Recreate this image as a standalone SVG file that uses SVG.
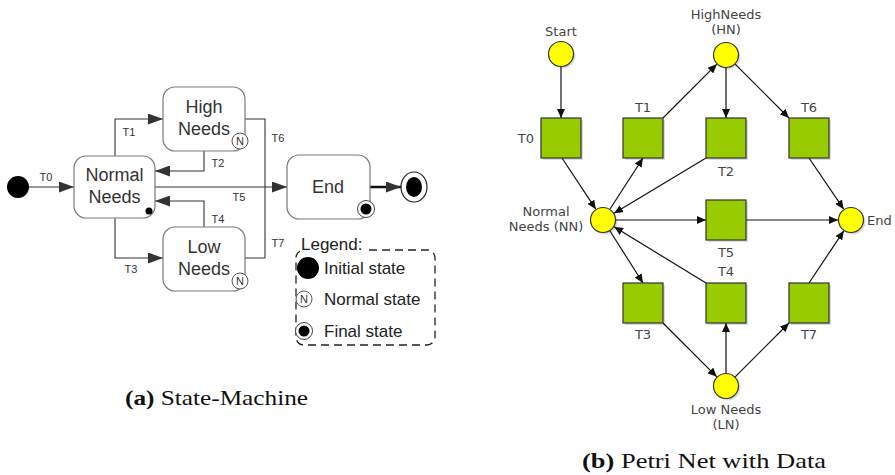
<svg xmlns="http://www.w3.org/2000/svg" width="895" height="475" viewBox="0 0 895 475">
<defs>
<marker id="ah" markerUnits="userSpaceOnUse" markerWidth="15" markerHeight="11" refX="15" refY="5.5" orient="auto"><path d="M0,0 L15,5.5 L0,11 z" fill="#333"/></marker>
<marker id="ap" markerUnits="userSpaceOnUse" markerWidth="9" markerHeight="8" refX="9" refY="4" orient="auto"><path d="M0,0 L9,4 L0,8 z" fill="#111"/></marker>
</defs>
<style>
.st{fill:#fff;stroke:#7a7a7a;stroke-width:1.2}
.sl{font-family:"Liberation Sans",Arial,sans-serif;font-size:18px;fill:#333;text-anchor:middle}
.tl{font-family:"Liberation Sans",Arial,sans-serif;font-size:11px;fill:#333;text-anchor:middle}
.cn{fill:none;stroke:#333;stroke-width:1.1}
.nc{fill:#fff;stroke:#555;stroke-width:1}
.nt{font-family:"Liberation Sans",Arial,sans-serif;font-size:11px;fill:#333;text-anchor:middle}
.lg{font-family:"Liberation Sans",Arial,sans-serif;font-size:17px;fill:#222}
.pl{fill:#ffff00;stroke:#333;stroke-width:1.2}
.tr{fill:#99cc00;stroke:#333;stroke-width:1.2}
.sh{fill:#000;opacity:0.14}
.pt{font-family:"DejaVu Sans",sans-serif;font-size:13px;fill:#444;text-anchor:middle}
.pa{fill:none;stroke:#111;stroke-width:1.2}
.cap{font-family:"Liberation Serif","Times New Roman",serif;font-size:22px;fill:#111}
</style>
<rect width="895" height="475" fill="#fff"/>

<!-- ===== (a) State machine ===== -->
<g id="sm-connectors">
  <line class="cn" x1="29" y1="187" x2="74" y2="187" marker-end="url(#ah)"/>
  <polyline class="cn" points="115,156 115,119 163,119" marker-end="url(#ah)"/>
  <polyline class="cn" points="204,151 204,171 155,171" marker-end="url(#ah)"/>
  <polyline class="cn" points="204,227 204,201 155,201" marker-end="url(#ah)"/>
  <polyline class="cn" points="115,218 115,258 163,258" marker-end="url(#ah)"/>
  <line class="cn" x1="155" y1="187" x2="287" y2="187" marker-end="url(#ah)"/>
  <polyline class="cn" points="245,119 265,119 265,258 245,258"/>
  <line x1="370" y1="187" x2="401" y2="187" stroke="#111" stroke-width="2.5" marker-end="url(#ah)"/>
  <text class="tl" x="46" y="181">T0</text>
  <text class="tl" x="129" y="136">T1</text>
  <text class="tl" x="218" y="167">T2</text>
  <text class="tl" x="218" y="223">T4</text>
  <text class="tl" x="131" y="273">T3</text>
  <text class="tl" x="239" y="201">T5</text>
  <text class="tl" x="278" y="142">T6</text>
  <text class="tl" x="278" y="247">T7</text>
</g>
<g id="sm-initial">
  <circle cx="18" cy="187" r="11" fill="#000"/>
</g>
<g id="sm-normal">
  <rect class="st" x="74" y="156" width="81" height="62" rx="12"/>
  <text class="sl" x="114.5" y="181">Normal</text>
  <text class="sl" x="114.5" y="203">Needs</text>
  <circle cx="149" cy="211" r="3.5" fill="#000"/>
</g>
<g id="sm-high">
  <rect class="st" x="163" y="87" width="82" height="64" rx="12"/>
  <text class="sl" x="204" y="113">High</text>
  <text class="sl" x="204" y="135">Needs</text>
  <circle class="nc" cx="240" cy="141" r="8"/>
  <text class="nt" x="240" y="145">N</text>
</g>
<g id="sm-low">
  <rect class="st" x="163" y="227" width="82" height="64" rx="12"/>
  <text class="sl" x="204" y="253">Low</text>
  <text class="sl" x="204" y="275">Needs</text>
  <circle class="nc" cx="240" cy="281" r="8"/>
  <text class="nt" x="240" y="285">N</text>
</g>
<g id="sm-end">
  <rect class="st" x="287" y="155" width="83" height="64" rx="12"/>
  <text class="sl" x="328" y="193">End</text>
  <circle cx="366" cy="209" r="8.5" fill="#fff" stroke="#444" stroke-width="1"/>
  <circle cx="366" cy="209" r="5.5" fill="#000"/>
</g>
<g id="sm-final">
  <ellipse cx="414" cy="187" rx="13" ry="15" fill="#fff" stroke="#222" stroke-width="1.2"/>
  <ellipse cx="414" cy="187" rx="8" ry="10" fill="#000"/>
</g>
<g id="sm-legend">
  <rect x="296" y="250" width="139" height="95" rx="8" fill="none" stroke="#222" stroke-width="1.3" stroke-dasharray="8,5"/>
  <rect x="300" y="236" width="68" height="18" fill="#fff"/>
  <text class="lg" x="301" y="250">Legend:</text>
  <circle cx="308" cy="268" r="11" fill="#000"/>
  <text class="lg" x="324" y="274">Initial state</text>
  <circle class="nc" cx="304" cy="299" r="8"/>
  <text class="nt" x="304" y="303">N</text>
  <text class="lg" x="324" y="305">Normal state</text>
  <circle cx="304" cy="331" r="8.5" fill="#fff" stroke="#444" stroke-width="1"/>
  <circle cx="304" cy="331" r="5.5" fill="#000"/>
  <text class="lg" x="324" y="337">Final state</text>
</g>
<text class="cap" x="125" y="405" textLength="183" lengthAdjust="spacingAndGlyphs"><tspan font-weight="bold">(a)</tspan> State-Machine</text>

<!-- ===== (b) Petri net ===== -->
<g id="pn-connectors">
  <line class="pa" x1="561" y1="67" x2="561" y2="118" marker-end="url(#ap)"/>
  <line class="pa" x1="562" y1="158" x2="595.8" y2="209.2" marker-end="url(#ap)"/>
  <line class="pa" x1="610" y1="209" x2="643" y2="158" marker-end="url(#ap)"/>
  <line class="pa" x1="663" y1="118" x2="716.8" y2="64.2" marker-end="url(#ap)"/>
  <line class="pa" x1="726" y1="67.5" x2="726" y2="118" marker-end="url(#ap)"/>
  <line class="pa" x1="735.2" y1="64.2" x2="789" y2="118" marker-end="url(#ap)"/>
  <line class="pa" x1="706" y1="158" x2="614.1" y2="213.3" marker-end="url(#ap)"/>
  <line class="pa" x1="809" y1="158" x2="843.7" y2="209.2" marker-end="url(#ap)"/>
  <line class="pa" x1="616" y1="220" x2="706" y2="220" marker-end="url(#ap)"/>
  <line class="pa" x1="746" y1="220" x2="838" y2="220" marker-end="url(#ap)"/>
  <line class="pa" x1="610" y1="231" x2="643" y2="283" marker-end="url(#ap)"/>
  <line class="pa" x1="706" y1="283" x2="614.1" y2="226.8" marker-end="url(#ap)"/>
  <line class="pa" x1="663" y1="323" x2="716.8" y2="376.8" marker-end="url(#ap)"/>
  <line class="pa" x1="726" y1="373.5" x2="726" y2="323" marker-end="url(#ap)"/>
  <line class="pa" x1="735.2" y1="376.8" x2="789" y2="323" marker-end="url(#ap)"/>
  <line class="pa" x1="809" y1="283" x2="843.8" y2="230.8" marker-end="url(#ap)"/>
</g>
<g id="pn-start">
  <circle class="sh" cx="563" cy="56" r="12.5"/>
  <circle class="pl" cx="561" cy="54" r="12.5"/>
  <text class="pt" x="561" y="36">Start</text>
</g>
<g id="pn-hn">
  <circle class="sh" cx="728" cy="57" r="12.5"/>
  <circle class="pl" cx="726" cy="55" r="12.5"/>
  <text class="pt" x="726" y="19">HighNeeds</text>
  <text class="pt" x="726" y="34">(HN)</text>
</g>
<g id="pn-nn">
  <circle class="sh" cx="605" cy="222" r="12.5"/>
  <circle class="pl" cx="603" cy="220" r="12.5"/>
  <text class="pt" x="546" y="216">Normal</text>
  <text class="pt" x="546" y="231">Needs (NN)</text>
</g>
<g id="pn-end">
  <circle class="sh" cx="853" cy="222" r="12.5"/>
  <circle class="pl" cx="851" cy="220" r="12.5"/>
  <text class="pt" x="867" y="225" style="text-anchor:start">End</text>
</g>
<g id="pn-ln">
  <circle class="sh" cx="728" cy="388" r="12.5"/>
  <circle class="pl" cx="726" cy="386" r="12.5"/>
  <text class="pt" x="726" y="414">Low Needs</text>
  <text class="pt" x="726" y="429">(LN)</text>
</g>
<g id="pn-t0">
  <rect class="sh" x="543" y="120" width="40" height="40"/>
  <rect class="tr" x="541" y="118" width="40" height="40"/>
  <text class="pt" x="534" y="143" style="text-anchor:end">T0</text>
</g>
<g id="pn-t1">
  <rect class="sh" x="625" y="120" width="40" height="40"/>
  <rect class="tr" x="623" y="118" width="40" height="40"/>
  <text class="pt" x="643" y="112">T1</text>
</g>
<g id="pn-t2">
  <rect class="sh" x="708" y="120" width="40" height="40"/>
  <rect class="tr" x="706" y="118" width="40" height="40"/>
  <text class="pt" x="726" y="176">T2</text>
</g>
<g id="pn-t6">
  <rect class="sh" x="791" y="120" width="40" height="40"/>
  <rect class="tr" x="789" y="118" width="40" height="40"/>
  <text class="pt" x="809" y="112">T6</text>
</g>
<g id="pn-t5">
  <rect class="sh" x="708" y="202" width="40" height="40"/>
  <rect class="tr" x="706" y="200" width="40" height="40"/>
  <text class="pt" x="726" y="257">T5</text>
</g>
<g id="pn-t3">
  <rect class="sh" x="625" y="285" width="40" height="40"/>
  <rect class="tr" x="623" y="283" width="40" height="40"/>
  <text class="pt" x="643" y="339">T3</text>
</g>
<g id="pn-t4">
  <rect class="sh" x="708" y="285" width="40" height="40"/>
  <rect class="tr" x="706" y="283" width="40" height="40"/>
  <text class="pt" x="726" y="276">T4</text>
</g>
<g id="pn-t7">
  <rect class="sh" x="791" y="285" width="40" height="40"/>
  <rect class="tr" x="789" y="283" width="40" height="40"/>
  <text class="pt" x="809" y="339">T7</text>
</g>
<text class="cap" x="582" y="468" textLength="244" lengthAdjust="spacingAndGlyphs"><tspan font-weight="bold">(b)</tspan> Petri Net with Data</text>
</svg>
